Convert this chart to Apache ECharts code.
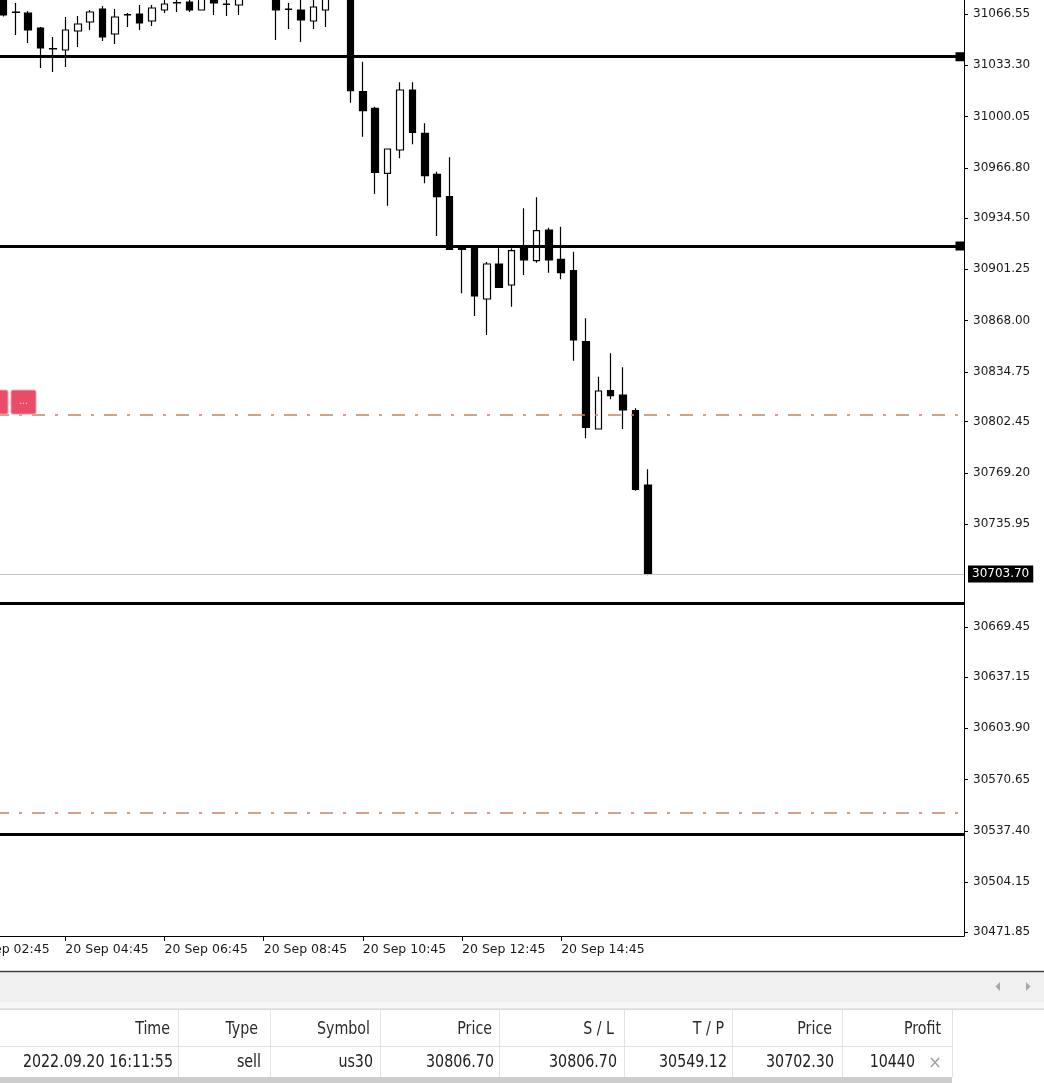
<!DOCTYPE html>
<html><head><meta charset="utf-8">
<script src="https://cdn.jsdelivr.net/npm/echarts@6/dist/echarts.min.js"></script>
<style>html,body{margin:0;padding:0;background:#fff;overflow:hidden;width:1044px;height:1083px}
#wrap{position:relative;width:1044px;height:1083px;overflow:hidden}
#c{position:absolute;left:-40px;top:0;width:1084px;height:1083px}</style>
</head><body><div id="wrap"><div id="c"></div></div>
<script>
// ---------- data ----------
const firstCategory = '02:45';           // first slot on the time axis
const slotCount = 81;                    // 15-minute slots on the axis
const firstCandle = '03:30';             // first candle
const openP  = [31077.56,31067.85,31067.20,31057.48,31043.88,31043.23,31055.54,31061.37,31069.79,31053.60,31065.90,31066.55,31062.02,31069.14,31073.68,31074.32,31069.14,31076.92,31073.03,31072.38,null,null,31077.56,31069.79,31069.14,31062.02,31069.14,null,31080.80,31016.21,31005.46,30963.35,30978.45,31017.32,30989.27,30962.71,30948.19,30915.28,30914.77,30881.92,30904.60,30890.99,30915.80,30906.73,30926.62,30907.64,30900.26,30854.26,30797.71,30822.51,30819.73,30809.56,30761.43];
const closeP = [31065.90,31067.52,31056.19,31044.53,31044.20,31056.19,31060.07,31067.85,31051.65,31064.61,31066.23,31060.72,31070.44,31073.03,31074.00,31069.14,31076.27,31073.68,31072.70,31076.27,null,null,31069.14,31069.47,31062.66,31071.09,31076.92,null,31016.86,31003.91,30964.00,30979.09,31017.32,30989.91,30961.80,30948.19,30914.12,30913.99,30883.87,30904.60,30889.50,30913.21,30907.19,30926.17,30907.19,30898.96,30855.36,30798.81,30822.32,30819.28,30810.01,30758.64,30703.70];
const lowP   = [31064.93,31052.95,31047.76,31031.57,31028.98,31032.22,31045.17,31056.19,31049.06,31047.12,31058.13,31056.19,31058.77,31067.20,31067.85,31067.85,31068.82,31065.90,31065.26,31065.90,null,null,31049.71,31056.83,31048.41,31056.83,31058.13,null,31009.09,30987.06,30949.94,30942.37,30973.07,30982.14,30956.88,30922.74,30913.66,30885.61,30870.91,30858.60,30889.04,30876.94,30897.47,30905.44,30898.96,30894.68,30841.95,30791.68,30797.71,30816.95,30797.71,30757.73,30702.90];
const highP  = [31079.51,31073.68,31068.49,31058.13,31051.65,31064.61,31065.26,31069.14,31071.73,31069.79,31067.20,31072.38,31072.38,31076.27,31076.92,31076.92,31077.56,31078.86,31076.92,31077.56,null,null,31079.51,31073.68,31076.27,31076.27,31078.21,null,31082.10,31035.65,31006.50,30979.09,31022.30,31022.30,30995.74,30964.39,30973.72,30916.26,30915.61,30905.89,30914.77,30914.77,30940.68,30947.80,30928.11,30928.76,30912.56,30869.42,30831.58,30846.74,30837.67,30811.12,30771.60];
const timeTickLabels = ['20 Sep 02:45','20 Sep 04:45','20 Sep 06:45','20 Sep 08:45','20 Sep 10:45','20 Sep 12:45','20 Sep 14:45'];
const priceTickLabels = [31066.55,31033.30,31000.05,30966.80,30934.50,30901.25,30868.00,30834.75,30802.45,30769.20,30735.95,30669.45,30637.15,30603.90,30570.65,30537.40,30504.15,30471.85];
const levelLines = [31038.90, 30916.26, 30684.98, 30535.34];
const orderPrice = 30806.70;
const takeProfit = 30549.12;
const bidPrice = 30703.70;
const priceMin = 30469.26, priceMax = 31075.62;
const tableHeaders = ['Time','Type','Symbol','Price','S / L','T / P','Price','Profit'];
const tableRow = ['2022.09.20 16:11:55','sell','us30','30806.70','30806.70','30549.12','30702.30','10440'];

// ---------- build ----------
function hm(s){const [h,m]=s.split(':').map(Number);return h*60+m;}
function fmt(min){const h=Math.floor(min/60),m=min%60;return '20 Sep '+String(h).padStart(2,'0')+':'+String(m).padStart(2,'0');}
const categories=[];
for(let i=0;i<slotCount;i++) categories.push(fmt(hm(firstCategory)+15*i));
const startIdx=(hm(firstCandle)-hm(firstCategory))/15;
const candleData=categories.map((c,i)=>{
  const j=i-startIdx;
  if(j<0||j>=openP.length||openP[j]==null) return '-';
  return [openP[j],closeP[j],lowP[j],highP[j]];
});

const OFF=40; // chart canvas is shifted left by this many px so the first time label is cut
const axisFont="Tahoma,'DejaVu Sans',sans-serif";
const tableFont="'Liberation Sans Narrow','DejaVu Sans Condensed','Liberation Sans',sans-serif";
const isTick=(idx,val)=>timeTickLabels.indexOf(val)>=0;
const squareEnd='path://M0,0H10V10H0Z M4,4V6H6V4Z';

const chart=echarts.init(document.getElementById('c'),null,{renderer:'canvas'});
const option={
  animation:false,
  backgroundColor:'#ffffff',
  grid:{left:0,right:80,top:0,bottom:147,containLabel:false},
  xAxis:{
    type:'category',data:categories,boundaryGap:true,
    axisLine:{show:true,lineStyle:{color:'#000',width:1}},
    axisTick:{show:true,alignWithLabel:true,interval:isTick,length:5,lineStyle:{color:'#000'}},
    axisLabel:{interval:isTick,align:'left',margin:7,fontSize:12.5,color:'#1a1a1a',fontFamily:axisFont},
    splitLine:{show:false}
  },
  yAxis:{
    type:'value',position:'right',min:priceMin,max:priceMax,scale:true,
    axisLine:{show:true,lineStyle:{color:'#000',width:1}},
    axisTick:{show:true,length:4,customValues:priceTickLabels,lineStyle:{color:'#000'}},
    axisLabel:{customValues:priceTickLabels,margin:9,fontSize:12,color:'#1a1a1a',fontFamily:axisFont,formatter:v=>Number(v).toFixed(2)},
    splitLine:{show:false}
  },
  series:[
    {
      type:'candlestick',data:candleData,barWidth:7,clip:true,silent:true,
      itemStyle:{color:'#ffffff',color0:'#000000',borderColor:'#000000',borderColor0:'#000000',borderWidth:1.2}
    },
    {
      type:'line',data:[],clip:false,silent:true,
      markLine:{silent:true,animation:false,symbol:['none',squareEnd],symbolSize:9,symbolOffset:[0,[0,4]],
        label:{show:false},
        lineStyle:{color:'#000',width:3,type:'solid'},
        data:[{yAxis:levelLines[0]},{yAxis:levelLines[1]}]}
    },
    {
      type:'line',data:[],clip:false,silent:true,
      markLine:{silent:true,animation:false,symbol:'none',
        label:{show:false},
        lineStyle:{color:'#000',width:3,type:'solid'},
        data:[{yAxis:levelLines[2]},{yAxis:levelLines[3]}]}
    },
    {
      type:'line',data:[],clip:false,silent:true,
      markLine:{silent:true,animation:false,symbol:'none',
        label:{show:false},
        lineStyle:{color:'#c8845c',width:1.5,type:[13,10,3,10]},
        data:[{yAxis:orderPrice},{yAxis:takeProfit}]}
    },
    {
      type:'line',data:[],clip:false,silent:true,
      markLine:{silent:true,animation:false,symbol:'none',
        lineStyle:{color:'#c4c4c4',width:1,type:'solid'},
        label:{show:true,position:'end',distance:4,formatter:()=>bidPrice.toFixed(2),
          backgroundColor:'#000',color:'#fff',padding:[3,4,2,4],fontSize:12,fontFamily:axisFont},
        data:[{yAxis:bidPrice}]}
    }
  ]
};
chart.setOption(option);

// ---------- decorations & trade table (page coordinates, shifted by OFF) ----------
const yOrder=chart.convertToPixel({yAxisIndex:0},orderPrice);
const headerRight=[170,258,370,492,614,724,832,941];
const rowRight=[173,261,373,494,617,727,834,915];
const colSep=[178,270,380,499,624,732,842,952];
const g=[];
const X=x=>x+OFF;
// order-level buttons
g.push({type:'rect',shape:{x:X(-10),y:yOrder-25,width:18,height:24,r:2},style:{fill:'#e84c66',stroke:'#f2a0ae',lineWidth:1},z:50});
g.push({type:'rect',shape:{x:X(11),y:yOrder-25,width:25,height:24,r:2},style:{fill:'#e84c66',stroke:'#f2a0ae',lineWidth:1},z:50});
g.push({type:'text',x:X(23.5),y:yOrder-14,style:{text:'...',fill:'#f5d0d6',fontSize:10,align:'center',verticalAlign:'middle'},z:51});
// toolbox panel
g.push({type:'rect',shape:{x:0,y:970,width:1084,height:1},style:{fill:'#dcdcdc'},z:40});
g.push({type:'rect',shape:{x:0,y:971,width:1084,height:1.5},style:{fill:'#3a3a3a'},z:40});
g.push({type:'rect',shape:{x:0,y:972.5,width:1084,height:30},style:{fill:'#f0f0f0'},z:40});
g.push({type:'rect',shape:{x:0,y:1002.5,width:1084,height:6},style:{fill:'#f7f7f7'},z:40});
g.push({type:'rect',shape:{x:0,y:1008.5,width:1084,height:1.2},style:{fill:'#cfcfcf'},z:40});
g.push({type:'polygon',shape:{points:[[X(1000),982],[X(1000),991],[X(995.5),986.5]]},style:{fill:'#a8a8a8'},z:41});
g.push({type:'polygon',shape:{points:[[X(1026),982],[X(1026),991],[X(1030.5),986.5]]},style:{fill:'#a8a8a8'},z:41});
// table grid
g.push({type:'rect',shape:{x:0,y:1046,width:X(952),height:1},style:{fill:'#e2e2e2'},z:40});
g.push({type:'rect',shape:{x:0,y:1077,width:X(952),height:6},style:{fill:'#cdcdcd'},z:40});
colSep.forEach(x=>g.push({type:'rect',shape:{x:X(x),y:1010,width:1,height:67},style:{fill:'#e2e2e2'},z:40}));
tableHeaders.forEach((t,i)=>g.push({type:'text',x:X(headerRight[i]),y:1029,scaleX:0.88,style:{text:t,fill:'#2b2b2b',fontSize:18,fontFamily:tableFont,align:'right',verticalAlign:'middle'},z:42}));
tableRow.forEach((t,i)=>g.push({type:'text',x:X(rowRight[i]),y:1062,scaleX:0.88,style:{text:t,fill:'#222',fontSize:18,fontFamily:tableFont,align:'right',verticalAlign:'middle'},z:42}));
g.push({type:'text',x:X(935),y:1063,style:{text:'×',fill:'#a0a0a0',fontSize:18,fontFamily:tableFont,align:'center',verticalAlign:'middle'},z:42});
chart.setOption({graphic:g});
</script>
</body></html>
